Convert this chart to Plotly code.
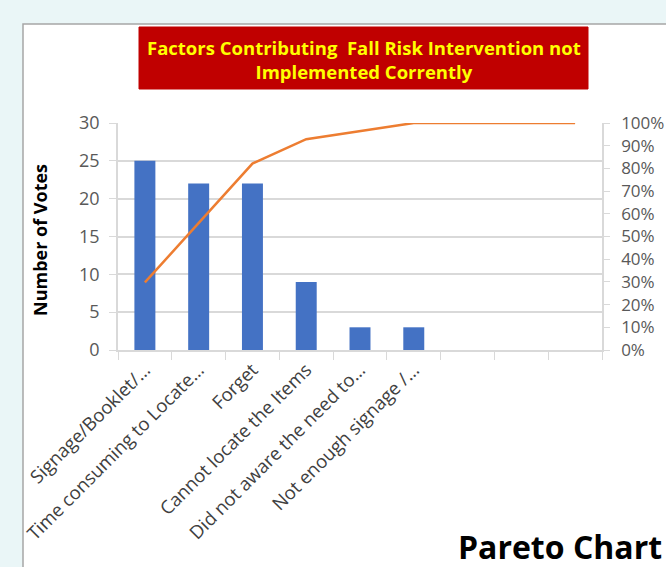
import plotly.graph_objects as go

# Factors and their vote counts (last three slots are unused categories)
factors = [
    "Signage/Booklet/…",
    "Time consuming to Locate…",
    "Forget",
    "Cannot locate the Items",
    "Did not aware the need to…",
    "Not enough signage /…",
    " ",
    "  ",
    "   ",
]
votes = [25, 22, 22, 9, 3, 3, 0, 0, 0]

total = sum(votes)
cumulative = []
running = 0
for v in votes:
    running += v
    cumulative.append(running / total)

pct_ticks = [i / 10 for i in range(11)]
vote_ticks = [0, 5, 10, 15, 20, 25, 30]

BAR = "#4472C4"
LINE = "#ED7D31"
GRID = "#D9D9D9"
TICKTXT = "#595959"
FONT = "Open Sans"

# plot area in pixels: x 118..602, y 123..350
L, R, T, B = 118, 64, 123, 217
PW, PH = 666 - L - R, 567 - T - B


def px(x):
    return (x - L) / PW


def py(y):
    return (T + PH - y) / PH


fig = go.Figure()
fig.add_trace(go.Bar(x=factors, y=votes, marker_color=BAR, marker_line_width=0,
                     yaxis="y", hoverinfo="skip"))
fig.add_trace(go.Scatter(x=factors, y=cumulative, mode="lines",
                         line=dict(color=LINE, width=2.5), yaxis="y2",
                         hoverinfo="skip"))

fig.update_layout(
    width=666, height=567,
    margin=dict(l=L, r=R, t=T, b=B, pad=0, autoexpand=False),
    paper_bgcolor="#EAF6F7",
    plot_bgcolor="white",
    showlegend=False,
    bargap=0.61,
    font=dict(family=FONT, color=TICKTXT),
    xaxis=dict(
        type="category", tickson="boundaries", ticks="outside", ticklen=8,
        tickcolor=GRID, showline=True, linecolor=GRID, linewidth=1.5,
        showgrid=False, tickangle=-45, tickfont=dict(size=18.5, color="#404040"),
        range=[-0.5, len(factors) - 0.5], automargin=False,
    ),
    yaxis=dict(
        range=[0, 30], tickvals=vote_ticks, ticks="outside", ticklen=7,
        tickcolor=GRID, showline=True, linecolor=GRID, linewidth=1.5,
        showgrid=True, gridcolor=GRID, gridwidth=1.5, zeroline=False,
        tickfont=dict(size=18, color=TICKTXT), ticklabelstandoff=6,
        automargin=False,
    ),
    yaxis2=dict(
        range=[0, 1], overlaying="y", side="right", tickvals=pct_ticks,
        tickformat=".0%", ticks="outside", ticklen=6, tickcolor=GRID,
        showline=True, linecolor=GRID, linewidth=1.5, showgrid=False,
        zeroline=False, tickfont=dict(size=17, color=TICKTXT),
        ticklabelstandoff=8, automargin=False,
    ),
    shapes=[
        # white chart panel with a grey frame
        dict(type="rect", xref="paper", yref="paper", layer="below",
             x0=px(23), x1=px(700), y0=py(600), y1=py(24),
             fillcolor="white", line=dict(color="#A6A6A6", width=1.5)),
        # red title banner
        dict(type="rect", xref="paper", yref="paper",
             x0=px(139), x1=px(588), y0=py(89), y1=py(27),
             fillcolor="#C00000", line=dict(color="#C00000", width=1)),
    ],
    annotations=[
        dict(text="Factors Contributing  Fall Risk Intervention not<br>Implemented Corrently",
             xref="paper", yref="paper", x=px(363.5), y=py(59),
             xanchor="center", yanchor="middle", showarrow=False,
             font=dict(family=FONT, size=18.5, color="#FFFF00", weight="bold"),
             align="center"),
        dict(text="Number of Votes", xref="paper", yref="paper",
             x=px(40), y=py(240), textangle=-90, showarrow=False,
             xanchor="center", yanchor="middle",
             font=dict(family=FONT, size=18, color="black", weight="bold")),
        dict(text="Pareto Chart", xref="paper", yref="paper",
             x=px(664), y=py(546), xanchor="right", yanchor="middle",
             showarrow=False,
             font=dict(family=FONT, size=32, color="black", weight="bold")),
    ],
)

fig.write_html("out.html")
